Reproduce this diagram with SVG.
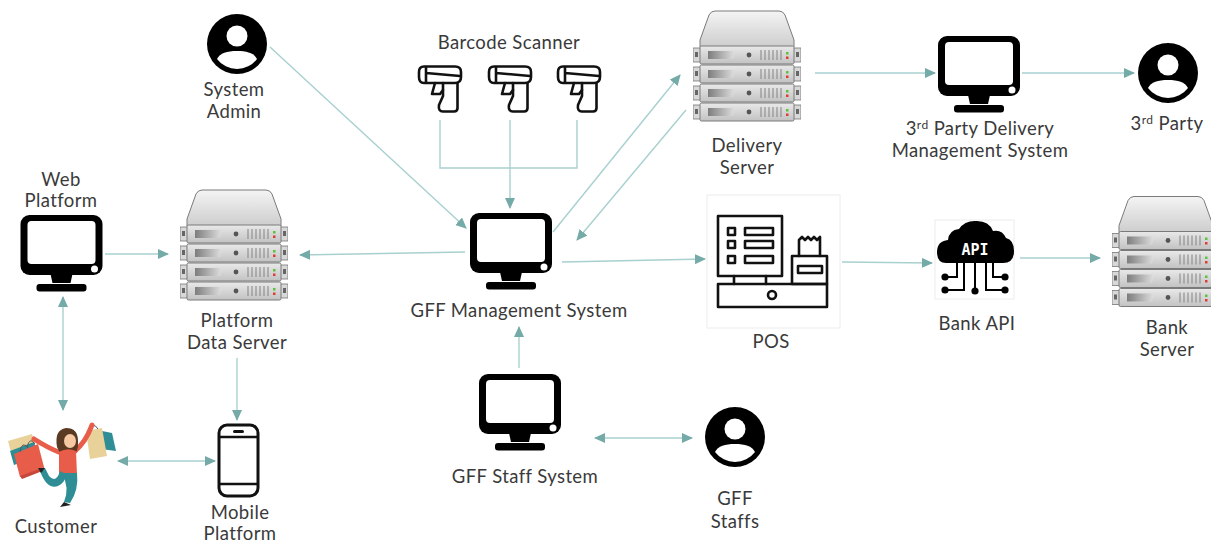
<svg xmlns="http://www.w3.org/2000/svg" width="1211" height="545" viewBox="0 0 1211 545">
  <style>
    .lbl { font-family: Lato, "Open Sans", "Noto Sans", sans-serif; font-size: 18.5px; letter-spacing: 0.4px; fill: #3a3a3a; text-anchor: middle; }
    .conn { fill: none; stroke: #a8d0cf; stroke-width: 1.4; }
    .tip { fill: #74aaa8; }
    .line-art { fill: none; stroke: #111; stroke-width: 2.6; stroke-linejoin: round; stroke-linecap: round; }
    .frame { fill: #fff; stroke: #ececec; stroke-width: 1; }
  </style>
  <defs>
    <marker id="arrow" markerUnits="userSpaceOnUse" markerWidth="11" markerHeight="10" refX="10" refY="5" orient="auto-start-reverse">
      <path class="tip" d="M0,0 L11,5 L0,10 Z"/>
    </marker>
    <linearGradient id="lidGrad" x1="0" y1="0" x2="0" y2="1">
      <stop offset="0" stop-color="#f4f4f4"/>
      <stop offset="1" stop-color="#cdcdcd"/>
    </linearGradient>
    <linearGradient id="panelGrad" x1="0" y1="0" x2="0" y2="1">
      <stop offset="0" stop-color="#e9e9e9"/>
      <stop offset="1" stop-color="#c2c2c2"/>
    </linearGradient>
    <linearGradient id="slotGrad" x1="0" y1="0" x2="1" y2="0">
      <stop offset="0" stop-color="#7d7d7d"/>
      <stop offset="1" stop-color="#e0e0e0"/>
    </linearGradient>

    <!-- one rack unit of the server stack -->
    <g id="rackUnit">
      <rect x="0" y="2" width="8" height="14" fill="#d8d8d8" stroke="#777" stroke-width="0.8"/>
      <rect x="100" y="2" width="8" height="14" fill="#d8d8d8" stroke="#777" stroke-width="0.8"/>
      <rect x="2" y="6" width="3" height="5" fill="#666"/>
      <rect x="103" y="6" width="3" height="5" fill="#666"/>
      <rect x="7" y="0" width="94" height="18" rx="1.5" fill="url(#panelGrad)" stroke="#7a7a7a" stroke-width="1"/>
      <path d="M15,5 H42 L40,13 H15 Z" fill="url(#slotGrad)"/>
      <circle cx="56" cy="9" r="2.4" fill="#555"/>
      <g stroke="#8a8a8a" stroke-width="1.1">
        <line x1="68" y1="4" x2="68" y2="14"/><line x1="72" y1="4" x2="72" y2="14"/>
        <line x1="76" y1="4" x2="76" y2="14"/><line x1="80" y1="4" x2="80" y2="14"/>
        <line x1="84" y1="4" x2="84" y2="14"/><line x1="88" y1="4" x2="88" y2="14"/>
      </g>
      <rect x="93" y="6" width="2.5" height="2.5" fill="#5cc43c"/>
      <rect x="93" y="10.5" width="2.5" height="2.5" fill="#e33a2f"/>
    </g>

    <symbol id="server" viewBox="0 0 108 115">
      <path d="M22,1 H86 Q90,1 92,5 L101,30 V37 H7 V30 L16,5 Q18,1 22,1 Z" fill="url(#lidGrad)" stroke="#7a7a7a" stroke-width="1"/>
      <use href="#rackUnit" x="0" y="36"/>
      <use href="#rackUnit" x="0" y="55"/>
      <use href="#rackUnit" x="0" y="74"/>
      <use href="#rackUnit" x="0" y="93"/>
    </symbol>

    <symbol id="monitor" viewBox="0 0 82 77">
      <rect x="0" y="0" width="82" height="60" rx="9" fill="#000"/>
      <rect x="7" y="6" width="68" height="43" rx="4" fill="#fff"/>
      <circle cx="74" cy="54" r="3.5" fill="#fff"/>
      <path d="M30,59 H52 L50,68 H32 Z" fill="#000"/>
      <rect x="16" y="69" width="50" height="7.5" rx="3" fill="#000"/>
    </symbol>

    <symbol id="person" viewBox="-31 -31 62 62">
      <circle cx="0" cy="0" r="30" fill="#000"/>
      <circle cx="0" cy="-8" r="10.5" fill="#fff"/>
      <path d="M-20,15 C-17,9 -10,7 0,7 C10,7 17,9 20,15 A25,25 0 0 1 -20,15 Z" fill="#fff"/>
    </symbol>

    <symbol id="scanner" viewBox="0 0 46 48">
      <path class="line-art" d="M7,1.5 H38 Q44,1.5 44,7 V12 Q44,18 38,18 H7 Q2,18 2,12 V7 Q2,1.5 7,1.5 Z"/>
      <path class="line-art" d="M9,2.5 V17 M9,8 L43,11"/>
      <path class="line-art" d="M18,18 L15,29 H23 L26,25"/>
      <path class="line-art" d="M26,18 V31 L22,40 Q21,46.5 26,46.5 H37 Q40.5,46.5 40.5,43 V18"/>
    </symbol>
  </defs>

  <rect width="1211" height="545" fill="#fff"/>

  <!-- connectors -->
  <g id="connectors">
    <path class="conn" d="M270,47 L466,228" marker-end="url(#arrow)"/>
    <path class="conn" d="M440,120 V168 H577 V120"/>
    <path class="conn" d="M510,120 V208" marker-end="url(#arrow)"/>
    <path class="conn" d="M553,232 L680,75" marker-end="url(#arrow)"/>
    <path class="conn" d="M686,110 L577,240" marker-end="url(#arrow)"/>
    <path class="conn" d="M815,73 H935" marker-end="url(#arrow)"/>
    <path class="conn" d="M1022,73 H1134" marker-end="url(#arrow)"/>
    <path class="conn" d="M562,262 L705,259" marker-end="url(#arrow)"/>
    <path class="conn" d="M842,262 L932,263" marker-end="url(#arrow)"/>
    <path class="conn" d="M1020,258 H1100" marker-end="url(#arrow)"/>
    <path class="conn" d="M465,252 L300,255" marker-end="url(#arrow)"/>
    <path class="conn" d="M105,254 H168" marker-end="url(#arrow)"/>
    <path class="conn" d="M63,297 V410" marker-start="url(#arrow)" marker-end="url(#arrow)"/>
    <path class="conn" d="M237,358 V420" marker-end="url(#arrow)"/>
    <path class="conn" d="M118,461 H215" marker-start="url(#arrow)" marker-end="url(#arrow)"/>
    <path class="conn" d="M519,368 V327" marker-end="url(#arrow)"/>
    <path class="conn" d="M595,438 H692" marker-start="url(#arrow)" marker-end="url(#arrow)"/>
  </g>

  <!-- System Admin -->
  <g id="system-admin">
    <use href="#person" x="206" y="13" width="62" height="62"/>
    <text class="lbl" x="234" y="96">System</text>
    <text class="lbl" x="234" y="118">Admin</text>
  </g>

  <!-- Barcode scanners -->
  <g id="barcode-scanner">
    <text class="lbl" x="509" y="49">Barcode Scanner</text>
    <use href="#scanner" x="417" y="65" width="46" height="48"/>
    <use href="#scanner" x="487" y="65" width="46" height="48"/>
    <use href="#scanner" x="556" y="65" width="46" height="48"/>
  </g>

  <!-- Delivery Server -->
  <g id="delivery-server">
    <use href="#server" x="693" y="10" width="108" height="115"/>
    <text class="lbl" x="747" y="152">Delivery</text>
    <text class="lbl" x="747" y="174">Server</text>
  </g>

  <!-- 3rd Party Delivery Management System -->
  <g id="third-party-system">
    <use href="#monitor" x="938" y="36" width="82" height="77"/>
    <text class="lbl" x="980" y="135">3<tspan dy="-6" font-size="12">rd</tspan><tspan dy="6"> Party Delivery</tspan></text>
    <text class="lbl" x="980" y="157">Management System</text>
  </g>

  <!-- 3rd Party -->
  <g id="third-party">
    <use href="#person" x="1137" y="42" width="62" height="62"/>
    <text class="lbl" x="1167" y="130">3<tspan dy="-6" font-size="12">rd</tspan><tspan dy="6"> Party</tspan></text>
  </g>

  <!-- Web Platform -->
  <g id="web-platform">
    <text class="lbl" x="61" y="186">Web</text>
    <text class="lbl" x="61" y="207">Platform</text>
    <use href="#monitor" x="20" y="215" width="83" height="77"/>
  </g>

  <!-- Platform Data Server -->
  <g id="platform-data-server">
    <use href="#server" x="180" y="189" width="108" height="115"/>
    <text class="lbl" x="237" y="327">Platform</text>
    <text class="lbl" x="237" y="349">Data Server</text>
  </g>

  <!-- GFF Management System -->
  <g id="gff-management-system">
    <use href="#monitor" x="470" y="213" width="82" height="77"/>
    <text class="lbl" x="519" y="317">GFF Management System</text>
  </g>

  <!-- POS -->
  <g id="pos">
    <rect class="frame" x="707" y="195" width="133" height="133"/>
    <g class="line-art" stroke-width="3">
      <rect x="718" y="216" width="64" height="60"/>
      <rect x="728" y="228" width="7" height="7"/>
      <rect x="728" y="241" width="7" height="7"/>
      <rect x="728" y="256" width="7" height="7"/>
      <rect x="745" y="228" width="28" height="7"/>
      <rect x="745" y="241" width="28" height="7"/>
      <rect x="745" y="256" width="28" height="7"/>
      <path d="M734,276 V284 M766,276 V284"/>
      <rect x="718" y="284" width="109" height="23"/>
      <circle cx="772" cy="295" r="4"/>
      <rect x="792" y="256" width="35" height="28"/>
      <rect x="798" y="266" width="24" height="7"/>
      <path d="M799,256 V240 L802,237 L805,240 L808,237 L811,240 L814,237 L817,240 L820,237 V256"/>
    </g>
    <text class="lbl" x="771" y="348">POS</text>
  </g>

  <!-- Bank API -->
  <g id="bank-api">
    <rect class="frame" x="935" y="220" width="79" height="79"/>
    <path d="M946,263 Q937,263 937,252 Q937,241 948,240 Q949,230 959,229 Q965,220 977,221 Q989,221 993,231 Q1002,229 1006,238 Q1014,240 1014,251 Q1014,263 1003,263 Z" fill="#000"/>
    <text x="975" y="255" font-family="'DejaVu Sans Mono', 'Liberation Mono', monospace" font-weight="bold" font-size="15" fill="#fff" text-anchor="middle">API</text>
    <g fill="none" stroke="#000" stroke-width="2">
      <path d="M957,262 V277 H946"/>
      <path d="M964,262 V290 H946"/>
      <path d="M975,262 V290"/>
      <path d="M986,262 V290 H1005"/>
      <path d="M993,262 V277 H1005"/>
    </g>
    <g fill="#000">
      <circle cx="945" cy="277" r="3.6"/>
      <circle cx="945" cy="290" r="3.6"/>
      <circle cx="975" cy="291" r="3.6"/>
      <circle cx="1005" cy="277" r="3.6"/>
      <circle cx="1005" cy="290" r="3.6"/>
    </g>
    <text class="lbl" x="977" y="330">Bank API</text>
  </g>

  <!-- Bank Server -->
  <g id="bank-server">
    <use href="#server" x="1112" y="193" width="108" height="120"/>
    <text class="lbl" x="1167" y="334">Bank</text>
    <text class="lbl" x="1167" y="356">Server</text>
  </g>

  <!-- Customer -->
  <g id="customer">
    <!-- bags in the left hand -->
    <path d="M8,441 L32,434 L36,449 L12,456 Z" fill="#e9d29a"/>
    <path d="M10,451 L34,442 L38,456 L14,465 Z" fill="#2e8d95"/>
    <path d="M14,454 L38,444 L44,467 L20,477 Z" fill="#e85c4a"/>
    <path d="M20,476 L44,467 L45,470 L22,479 Z" fill="#c8473a"/>
    <path d="M20,452 Q22,440 28,448 M27,447 Q30,436 35,444" fill="none" stroke="#555" stroke-width="1"/>
    <!-- bags in the right hand -->
    <path d="M97,430 L112,433 L116,451 L101,449 Z" fill="#2e8d95"/>
    <path d="M86,431 L102,428 L107,456 L90,459 Z" fill="#e9d29a"/>
    <path d="M90,431 Q93,421 98,429" fill="none" stroke="#555" stroke-width="1"/>
    <!-- arms -->
    <path d="M61,453 Q48,448 34,439" fill="none" stroke="#e85c4a" stroke-width="5" stroke-linecap="round"/>
    <path d="M74,452 Q86,442 92,425" fill="none" stroke="#e85c4a" stroke-width="5" stroke-linecap="round"/>
    <!-- hair and head -->
    <path d="M57,447 Q54,430 66,428 Q78,428 78,441 Q79,453 71,457 Q61,458 57,447 Z" fill="#5a3a22"/>
    <ellipse cx="70" cy="441" rx="6" ry="7" fill="#f6c9a3"/>
    <!-- torso -->
    <path d="M59,452 Q67,447 76,451 L77,475 Q67,479 59,474 Z" fill="#e85c4a"/>
    <!-- legs -->
    <path d="M60,471 Q56,484 49,476 L45,468 L40,471 Q47,490 58,486 Q66,482 66,474 Z" fill="#2e8d95"/>
    <path d="M62,473 L77,473 Q79,490 70,503 L64,502 Q70,488 62,473 Z" fill="#2e8d95"/>
    <path d="M45,468 L38,468 L41,473 Z" fill="#222"/>
    <path d="M64,502 L60,507 L71,505 Z" fill="#222"/>
    <text class="lbl" x="56" y="533">Customer</text>
  </g>

  <!-- Mobile Platform -->
  <g id="mobile-platform">
    <rect x="219" y="425" width="39" height="71" rx="8" fill="none" stroke="#111" stroke-width="3"/>
    <path d="M220,437 H257 M220,484 H257" stroke="#111" stroke-width="2.5"/>
    <rect x="233" y="430" width="11" height="3" rx="1.5" fill="#111"/>
    <text class="lbl" x="240" y="519">Mobile</text>
    <text class="lbl" x="240" y="540">Platform</text>
  </g>

  <!-- GFF Staff System -->
  <g id="gff-staff-system">
    <use href="#monitor" x="479" y="374" width="82" height="77"/>
    <text class="lbl" x="525" y="483">GFF Staff System</text>
  </g>

  <!-- GFF Staffs -->
  <g id="gff-staffs">
    <use href="#person" x="704" y="406" width="62" height="62"/>
    <text class="lbl" x="735" y="505">GFF</text>
    <text class="lbl" x="735" y="528">Staffs</text>
  </g>
</svg>
